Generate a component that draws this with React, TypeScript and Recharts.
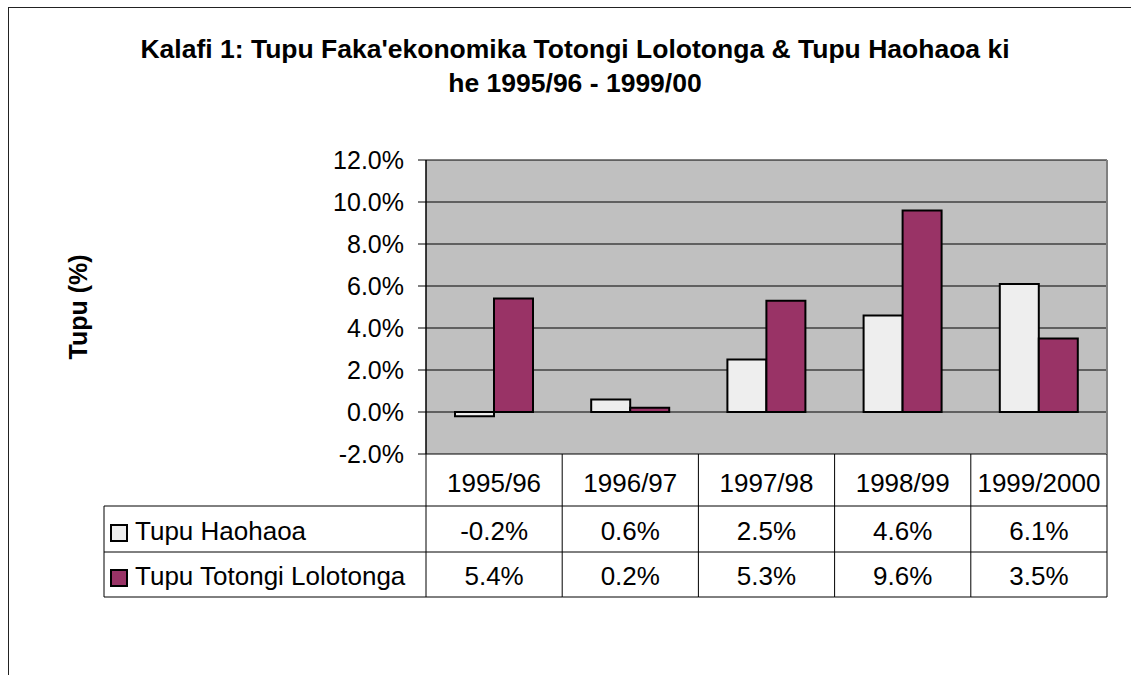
// Kalafi 1 - tupu faka'ekonomika, bar chart with an Excel-style data table
import { BarChart, Bar, XAxis, YAxis, CartesianGrid } from 'recharts';

const categories = ['1995/96', '1996/97', '1997/98', '1998/99', '1999/2000'];
const haohaoa = [-0.2, 0.6, 2.5, 4.6, 6.1];
const totongi = [5.4, 0.2, 5.3, 9.6, 3.5];
const seriesNames = ['Tupu Haohaoa', 'Tupu Totongi Lolotonga'];
const yTicks = [-2, 0, 2, 4, 6, 8, 10, 12];

const data = categories.map((name, i) => ({
  name,
  haohaoa: haohaoa[i],
  totongi: totongi[i],
}));

const FONT = '"Liberation Sans", Arial, sans-serif';
const COLORS = ['#EEEEEE', '#993366'];
const fmt = (v: number) => `${v.toFixed(1)}%`;

// table layout (px, relative to the -2% line)
const ROW1 = 52;
const ROW2 = 98;
const ROW3 = 143;
const TABLE_LEFT = 104;

const TableTick = (props: any) => {
  const { x, y, payload, index } = props;
  const half = payload && payload.offset > 0 ? payload.offset : 68.1;
  const left = x - half;
  const right = x + half;
  const top = y;
  const txt = { fontFamily: FONT, fontSize: 26, fill: '#000' };
  const ln = { stroke: '#000', strokeWidth: 1 };
  return (
    <g>
      <text x={x} y={top + 38} textAnchor="middle" {...txt}>{payload.value}</text>
      <text x={x} y={top + 86} textAnchor="middle" {...txt}>{fmt(haohaoa[index])}</text>
      <text x={x} y={top + 131} textAnchor="middle" {...txt}>{fmt(totongi[index])}</text>
      <line x1={right} x2={right} y1={top} y2={top + ROW3} {...ln} />
      <line x1={left} x2={right} y1={top + ROW1} y2={top + ROW1} {...ln} />
      <line x1={left} x2={right} y1={top + ROW2} y2={top + ROW2} {...ln} />
      <line x1={left} x2={right} y1={top + ROW3} y2={top + ROW3} {...ln} />
      {index === 0 && (
        <g>
          <line x1={left} x2={left} y1={top} y2={top + ROW3} {...ln} />
          <line x1={TABLE_LEFT} x2={TABLE_LEFT} y1={top + ROW1} y2={top + ROW3} {...ln} />
          <line x1={TABLE_LEFT} x2={left} y1={top + ROW1} y2={top + ROW1} {...ln} />
          <line x1={TABLE_LEFT} x2={left} y1={top + ROW2} y2={top + ROW2} {...ln} />
          <line x1={TABLE_LEFT} x2={left} y1={top + ROW3} y2={top + ROW3} {...ln} />
          {seriesNames.map((s, k) => (
            <g key={s}>
              <rect
                x={TABLE_LEFT + 7}
                y={top + (k === 0 ? 71 : 116)}
                width={16}
                height={16}
                fill={COLORS[k]}
                stroke="#000"
                strokeWidth={2}
              />
              <text x={TABLE_LEFT + 31} y={top + (k === 0 ? 86 : 131)} {...txt}>{s}</text>
            </g>
          ))}
        </g>
      )}
    </g>
  );
};

export default function App() {
  return (
    <div
      style={{
        position: 'absolute',
        left: 0,
        top: 0,
        width: 1131,
        height: 675,
        overflow: 'hidden',
        background: '#fff',
      }}
    >
      {/* outer chart frame, cut off on the right and bottom */}
      <div
        style={{
          position: 'absolute',
          left: 8,
          top: 7,
          width: 1400,
          height: 900,
          border: '1.5px solid #222',
        }}
      />
      <BarChart
        width={1131}
        height={675}
        data={data}
        margin={{ top: 160, right: 24, bottom: 78, left: 316 }}
        barCategoryGap={29}
        barGap={0}
        style={{ position: 'absolute', left: 0, top: 0 }}
      >
        <CartesianGrid vertical={false} stroke="#000" fill="#C0C0C0" strokeOpacity={1} />
        <XAxis
          dataKey="name"
          height={143}
          axisLine={false}
          tickLine={false}
          tickSize={0}
          tickMargin={0}
          interval={0}
          tick={<TableTick />}
        />
        <YAxis
          width={110}
          domain={[-2, 12]}
          ticks={yTicks}
          allowDataOverflow
          tickFormatter={fmt}
          tickSize={8}
          tickMargin={14}
          axisLine={{ stroke: '#000', strokeWidth: 1.5 }}
          tickLine={{ stroke: '#000', strokeWidth: 1 }}
          tick={{ fontFamily: FONT, fontSize: 25, fill: '#000' }}
        />
        <Bar
          dataKey="haohaoa"
          name={seriesNames[0]}
          fill={COLORS[0]}
          stroke="#000"
          strokeWidth={2}
          isAnimationActive={false}
        />
        <Bar
          dataKey="totongi"
          name={seriesNames[1]}
          fill={COLORS[1]}
          stroke="#000"
          strokeWidth={2}
          isAnimationActive={false}
        />
      </BarChart>
      <svg
        width={1131}
        height={675}
        style={{ position: 'absolute', left: 0, top: 0, pointerEvents: 'none' }}
      >
        {/* gray right edge of the plot area */}
        <line x1={1107} x2={1107} y1={160} y2={454} stroke="#808080" strokeWidth={2} />
        <text
          x={575}
          y={58}
          textAnchor="middle"
          fontFamily={FONT}
          fontSize={26.5}
          fontWeight="bold"
          fill="#000"
        >
          Kalafi 1: Tupu Faka'ekonomika Totongi Lolotonga &amp; Tupu Haohaoa ki
        </text>
        <text
          x={575}
          y={92}
          textAnchor="middle"
          fontFamily={FONT}
          fontSize={26.5}
          fontWeight="bold"
          fill="#000"
        >
          he 1995/96 - 1999/00
        </text>
        <text
          x={78}
          y={307}
          textAnchor="middle"
          dominantBaseline="central"
          transform="rotate(-90, 78, 307)"
          fontFamily={FONT}
          fontSize={25}
          fontWeight="bold"
          fill="#000"
        >
          Tupu (%)
        </text>
      </svg>
    </div>
  );
}
